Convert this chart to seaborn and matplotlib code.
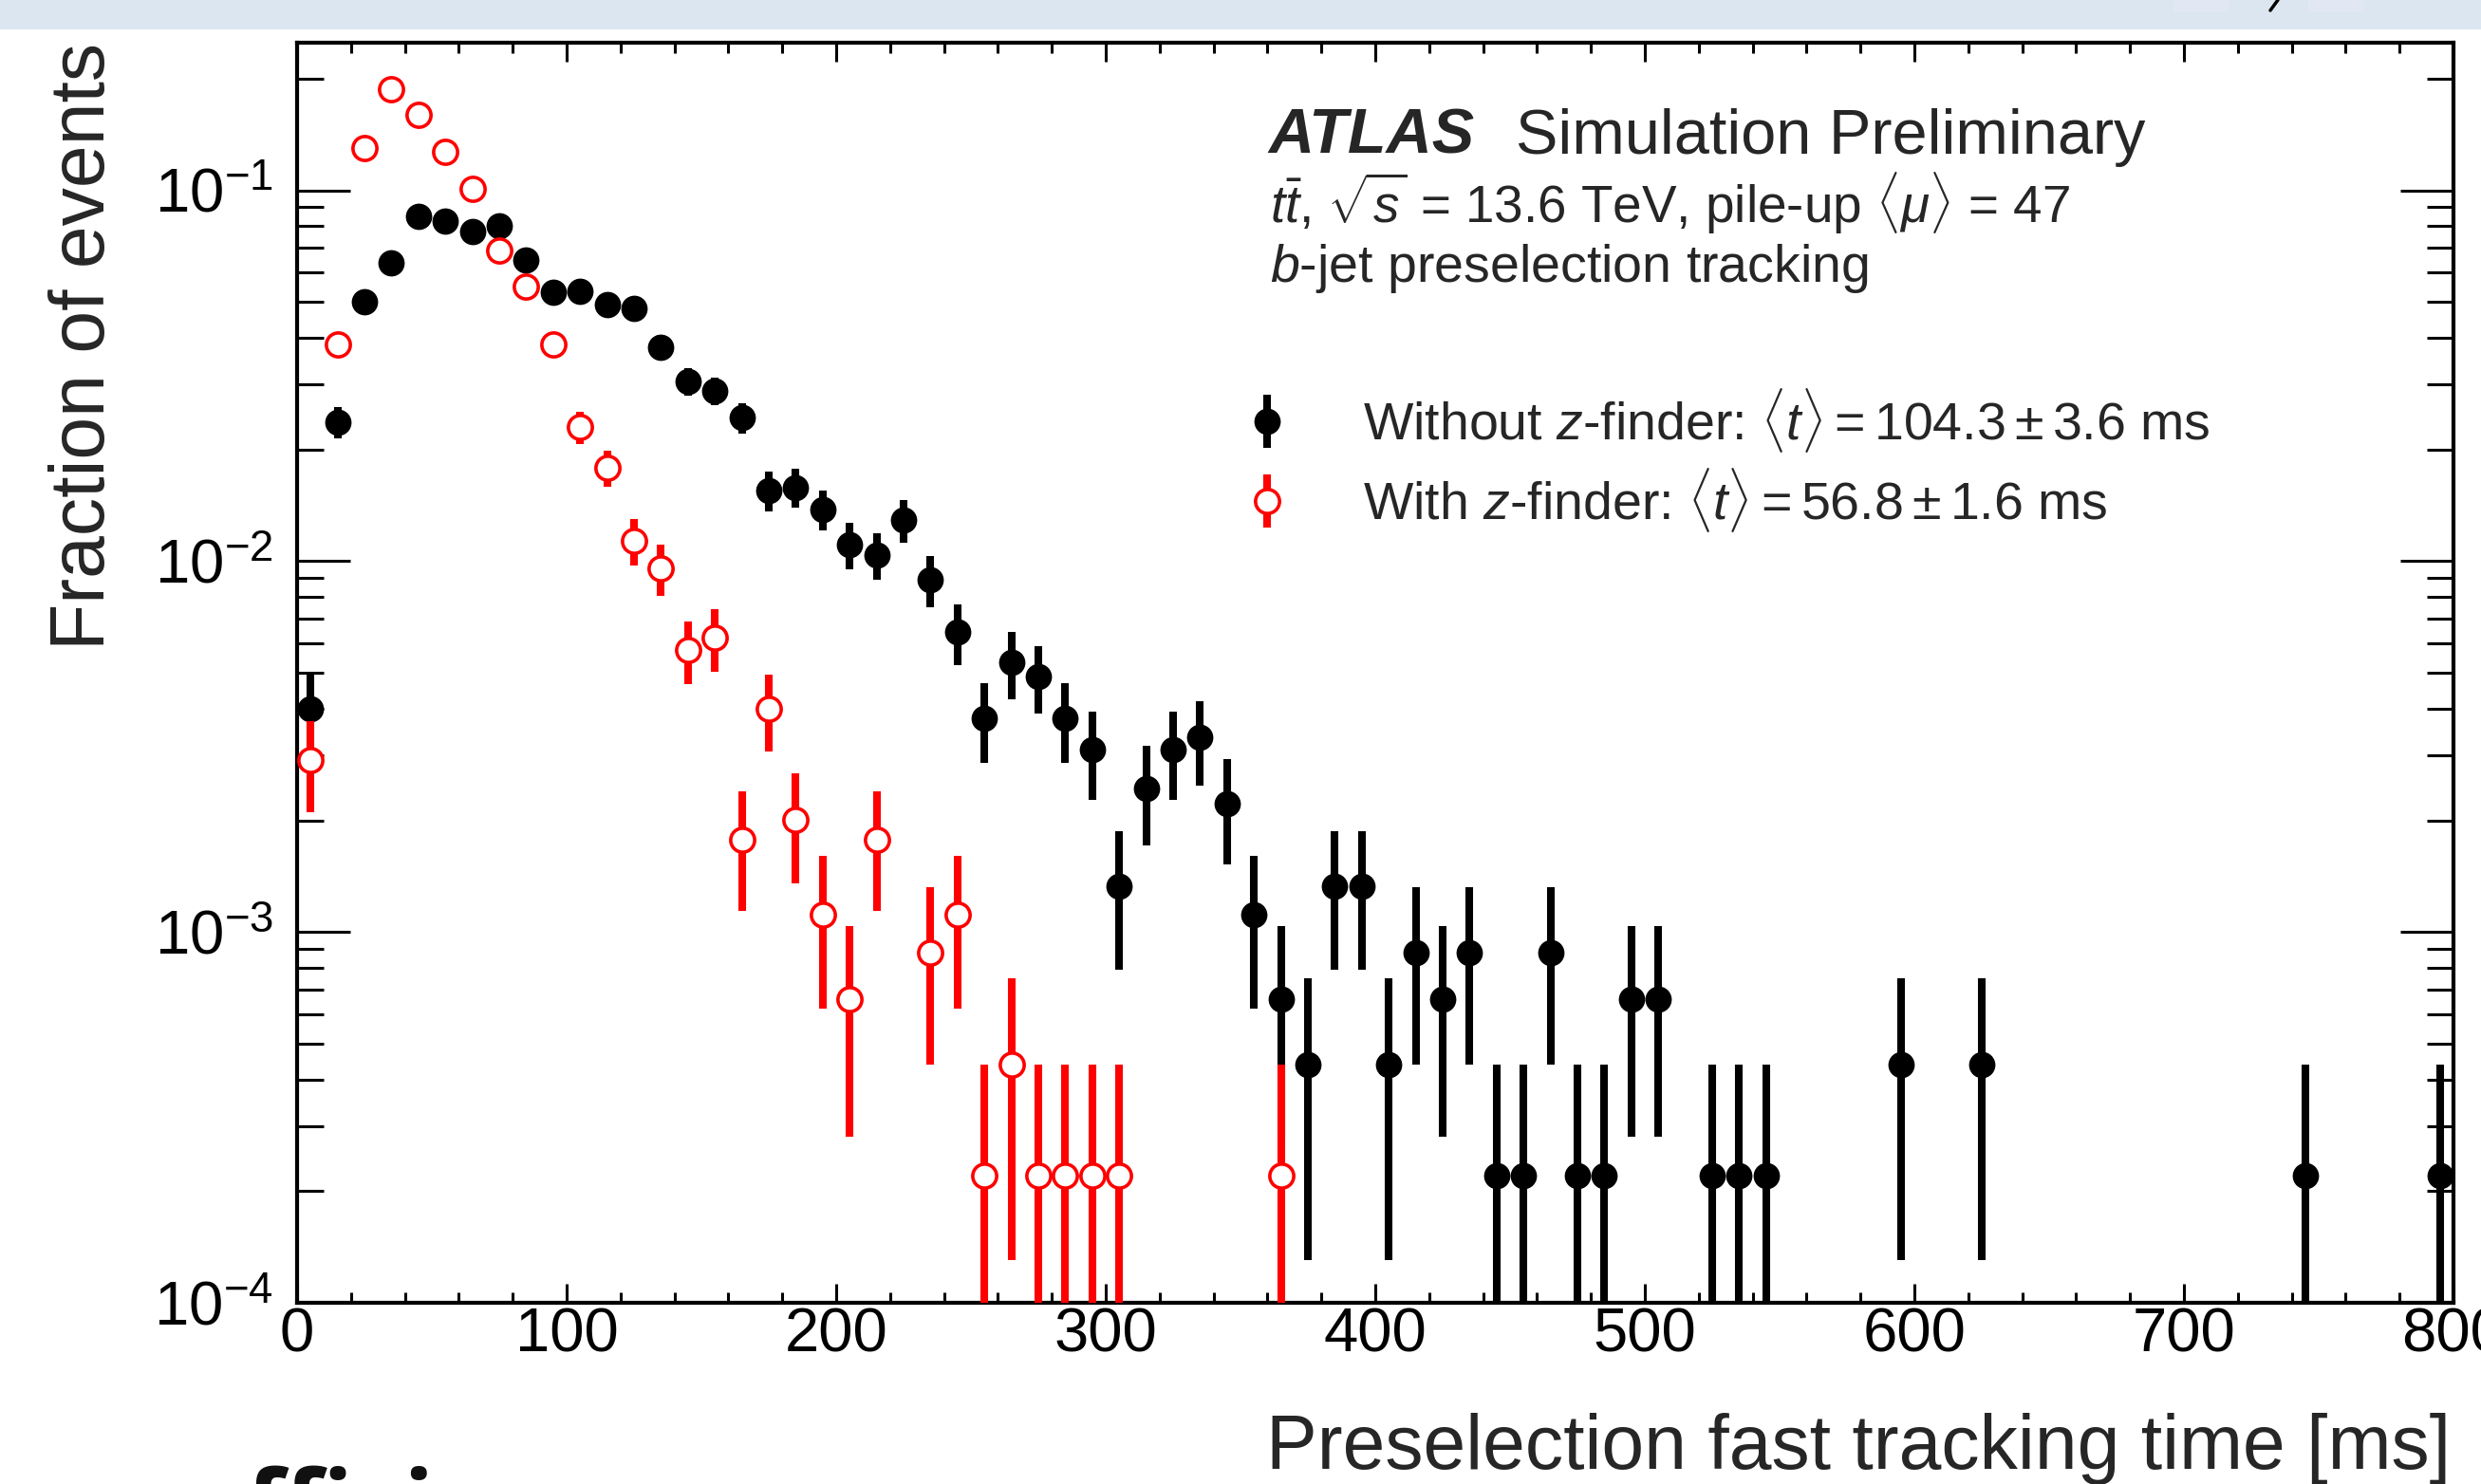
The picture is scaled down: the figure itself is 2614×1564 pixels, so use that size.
import numpy as np
import pandas as pd
import matplotlib
matplotlib.use("Agg")
import matplotlib.pyplot as plt
import seaborn as sns
from matplotlib.lines import Line2D
from matplotlib.patches import Rectangle
from matplotlib.legend_handler import HandlerTuple
from matplotlib.ticker import MultipleLocator, LogLocator, NullFormatter

W, H = 2614, 1564  # output size in px

# ============================================================
# DATA (10 ms bins -> bin centres)
# ============================================================
t_without = [5, 15, 25, 35, 45, 55, 65, 75, 85, 95,
             105, 115, 125, 135, 145, 155, 165, 175, 185, 195,
             205, 215, 225, 235, 245, 255, 265, 275, 285, 295,
             305, 315, 325, 335, 345, 355, 365, 375, 385, 395,
             405, 415, 425, 435, 445, 455, 465, 475, 485, 495,
             505, 525, 535, 545, 595, 625, 745, 795]
frac_without = [0.0040, 0.0237, 0.0501, 0.0638, 0.0853, 0.0828, 0.0776, 0.0800, 0.0650, 0.0532,
                0.0535, 0.0493, 0.0479, 0.0378, 0.0305, 0.0288, 0.0244, 0.0155, 0.0158, 0.0138,
                0.0111, 0.0104, 0.0129, 0.0089, 0.00645, 0.00377, 0.00535, 0.00489, 0.00377, 0.0031,
                0.00133, 0.00244, 0.0031, 0.00334, 0.00222, 0.00111, 0.00066, 0.00044, 0.00133, 0.00133,
                0.00044, 0.00088, 0.00066, 0.00088, 0.00022, 0.00022, 0.00088, 0.00022, 0.00022, 0.00066,
                0.00066, 0.00022, 0.00022, 0.00022, 0.00044, 0.00044, 0.00022, 0.00022]
err_without = [0.00094, 0.0023, 0.0033, 0.0038, 0.0043, 0.0043, 0.0041, 0.0042, 0.0038, 0.0034,
               0.0034, 0.0033, 0.0033, 0.0029, 0.0026, 0.0025, 0.0023, 0.0019, 0.0019, 0.0017,
               0.0016, 0.0015, 0.0017, 0.0014, 0.0012, 0.00091, 0.0011, 0.0010, 0.00091, 0.00083,
               0.00054, 0.00073, 0.00083, 0.00086, 0.00070, 0.00049, 0.00038, 0.00031, 0.00054, 0.00054,
               0.00031, 0.00044, 0.00038, 0.00044, 0.00022, 0.00022, 0.00044, 0.00022, 0.00022, 0.00038,
               0.00038, 0.00022, 0.00022, 0.00022, 0.00031, 0.00031, 0.00022, 0.00022]

t_with = [5, 15, 25, 35, 45, 55, 65, 75, 85, 95,
          105, 115, 125, 135, 145, 155, 165, 175, 185, 195,
          205, 215, 235, 245, 255, 265, 275, 285, 295, 305, 365]
frac_with = [0.0029, 0.0385, 0.130, 0.187, 0.160, 0.127, 0.101, 0.0689, 0.0551, 0.0385,
             0.0230, 0.0179, 0.01135, 0.00957, 0.00577, 0.00622, 0.00177, 0.0040, 0.00201, 0.00111,
             0.00066, 0.00177, 0.00088, 0.00111, 0.00022, 0.00044, 0.00022, 0.00022, 0.00022, 0.00022,
             0.00022]
err_with = [0.0008, 0.0029, 0.0054, 0.0064, 0.0059, 0.0053, 0.0047, 0.0039, 0.0035, 0.0029,
            0.0023, 0.0020, 0.0016, 0.0015, 0.0011, 0.0012, 0.00063, 0.00094, 0.00066, 0.00049,
            0.00038, 0.00063, 0.00044, 0.00049, 0.00022, 0.00031, 0.00022, 0.00022, 0.00022, 0.00022,
            0.00022]

label_without = r"Without $z$-finder: $\langle t\rangle = 104.3 \pm 3.6$ ms"
label_with = r"With $z$-finder: $\langle t\rangle = 56.8 \pm 1.6$ ms"

df_without = pd.DataFrame({"t": t_without, "frac": frac_without, "err": err_without})
df_with = pd.DataFrame({"t": t_with, "frac": frac_with, "err": err_with})

# ============================================================
# STYLE
# ============================================================
sns.set_theme(style="ticks")
plt.rcParams["font.family"] = ["Liberation Sans", "DejaVu Sans"]
plt.rcParams["mathtext.fontset"] = "custom"
plt.rcParams["mathtext.rm"] = "Liberation Sans"
plt.rcParams["mathtext.it"] = "Liberation Sans:italic"
plt.rcParams["mathtext.bf"] = "Liberation Sans:bold"


def fx(px):
    return px / W


def fy(py):
    return 1 - py / H


fig = plt.figure(figsize=(W / 100, H / 100), dpi=100)
fig.patch.set_facecolor("white")

# light-blue slide band at the top
fig.add_artist(Rectangle((0, fy(31)), 1, 31 / H, transform=fig.transFigure,
                         facecolor="#dce6f1", edgecolor="none", zorder=0))
for x0 in (2290, 2432):
    fig.add_artist(Rectangle((fx(x0), fy(12)), 58 / W, 12 / H, transform=fig.transFigure,
                             facecolor="#e2e8f3", edgecolor="none", zorder=1))
fig.add_artist(Line2D([fx(2400), fx(2392)], [fy(0), fy(11)], transform=fig.transFigure,
                      color="black", lw=2.5))

ax = fig.add_axes([fx(313), fy(1373), (2585 - 313) / W, (1373 - 45) / H])
ax.set_yscale("log")

# ============================================================
# MARKS
# ============================================================
ax.errorbar(df_without["t"], df_without["frac"], yerr=df_without["err"], fmt="none",
            ecolor="black", elinewidth=5.8, capsize=0, zorder=2)
sns.scatterplot(data=df_without, x="t", y="frac", ax=ax, s=400, color="black",
                edgecolor="black", linewidth=0, zorder=3, legend=False)

ax.errorbar(df_with["t"], df_with["frac"], yerr=df_with["err"], fmt="none",
            ecolor="red", elinewidth=5.8, capsize=0, zorder=4)
sns.scatterplot(data=df_with, x="t", y="frac", ax=ax, s=330, color="white",
                edgecolor="red", linewidth=2.6, zorder=5, legend=False)

# ============================================================
# AXES
# ============================================================
ax.set_xlim(0, 800)
ax.set_ylim(1e-4, 0.25)
ax.xaxis.set_major_locator(MultipleLocator(100))
ax.xaxis.set_minor_locator(MultipleLocator(20))
ax.yaxis.set_major_locator(LogLocator(base=10))
ax.yaxis.set_minor_locator(LogLocator(base=10, subs=np.arange(2, 10)))
ax.yaxis.set_minor_formatter(NullFormatter())

for s in ax.spines.values():
    s.set_linewidth(3)
    s.set_color("black")
ax.tick_params(which="both", direction="in", top=True, right=True, width=2.2, colors="black")
ax.tick_params(axis="x", which="major", length=14.4, labelsize=47, pad=3)
ax.tick_params(axis="x", which="minor", length=8)
ax.tick_params(axis="y", which="major", length=40, labelsize=47, pad=18)
ax.tick_params(axis="y", which="minor", length=20)

ax.set_xlabel("Preselection fast tracking time [ms]", fontsize=58)
ax.xaxis.set_label_coords(fx(2582), fy(1548), transform=fig.transFigure)
ax.xaxis.label.set(ha="right", va="baseline")

ax.set_ylabel("Fraction of events", fontsize=58)
ax.yaxis.set_label_coords(fx(110), fy(45), transform=fig.transFigure)
ax.yaxis.label.set(ha="right", va="baseline", rotation_mode="anchor")

# ============================================================
# TEXT
# ============================================================
fig.text(fx(1336), fy(162), "ATLAS", fontsize=48, fontweight="bold", fontstyle="italic",
         va="baseline")
fig.text(fx(1597), fy(162), "Simulation Preliminary", fontsize=48, va="baseline")
fig.text(fx(1338), fy(235), r"$t\bar{t}$, $\sqrt{s}$ = 13.6 TeV, pile-up $\langle\mu\rangle$ = 47",
         fontsize=39.5, va="baseline")
fig.text(fx(1338), fy(297), r"$b$-jet preselection tracking", fontsize=40, va="baseline")

handles = [
    (Line2D([], [], ls="none", marker="|", ms=40, mew=5.8, color="black"),
     Line2D([], [], ls="none", marker="o", ms=20, mfc="black", mec="black", mew=0)),
    (Line2D([], [], ls="none", marker="|", ms=41, mew=5.8, color="red"),
     Line2D([], [], ls="none", marker="o", ms=18.2, mfc="white", mec="red", mew=2.6)),
]
ax.legend(handles, [label_without, label_with],
          handler_map={tuple: HandlerTuple(ndivide=1, pad=0)},
          loc="upper left", bbox_to_anchor=(fx(1307), fy(407)), bbox_transform=fig.transFigure,
          frameon=False, fontsize=40, handlelength=1.0, handletextpad=1.32,
          borderpad=0, borderaxespad=0, labelspacing=0.22)

# cut-off slide title at the bottom edge
fig.text(fx(38), fy(1624), "on efficiency", fontsize=75, fontweight="bold",
         family=["Open Sans", "DejaVu Sans"], va="baseline", color="#111111")

fig.savefig("out.png", dpi=100)
